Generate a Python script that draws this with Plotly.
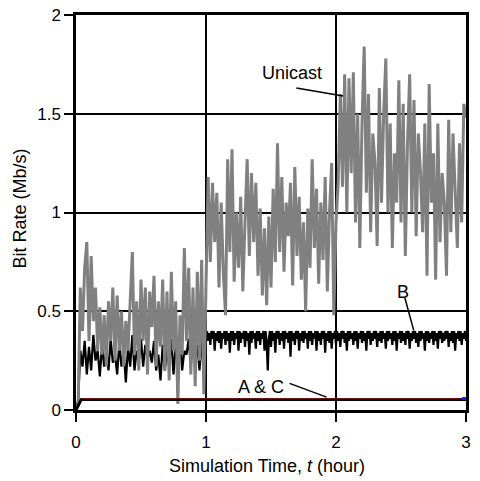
import plotly.graph_objects as go

# ---- data ----
minutes = list(range(0, 181))           # unicast sample times in minutes
time_hours = [m / 60 for m in minutes]

unicast_rate = [
    0.00, 0.03, 0.62, 0.40, 0.72, 0.85, 0.35, 0.78, 0.45, 0.62,
    0.30, 0.52, 0.28, 0.48, 0.22, 0.55, 0.35, 0.62, 0.25, 0.58,
    0.30, 0.50, 0.22, 0.45, 0.30, 0.52, 0.80, 0.28, 0.55, 0.20,
    0.66, 0.35, 0.62, 0.18, 0.60, 0.42, 0.68, 0.22, 0.55, 0.32,
    0.66, 0.20, 0.60, 0.15, 0.70, 0.30, 0.55, 0.03, 0.48, 0.28,
    0.82, 0.35, 0.72, 0.18, 0.62, 0.12, 0.70, 0.25, 0.76, 0.08,
    0.55, 1.18, 0.75, 1.15, 0.85, 1.10, 0.62, 1.05, 0.70, 0.48,
    1.27, 0.80, 1.32, 0.65, 1.00, 0.72, 1.08, 0.60, 0.95, 1.27,
    0.78, 1.20, 0.85, 1.15, 0.68, 1.02, 0.58, 0.92, 0.53, 0.98,
    0.62, 1.12, 0.75, 1.35, 0.80, 1.18, 0.70, 1.05, 0.88, 1.15,
    0.63, 1.23, 0.78, 1.08, 0.66, 0.95, 0.50, 1.02, 0.72, 1.27,
    0.82, 1.12, 0.64, 1.05, 0.76, 1.18, 0.60, 1.00, 1.25, 0.48,
    0.95, 1.15, 1.60, 1.13, 1.70, 1.00, 1.68, 1.20, 1.71, 0.95,
    1.50, 0.82, 1.45, 1.84, 1.10, 1.60, 0.90, 1.40, 1.25, 0.83,
    1.63, 1.05, 1.50, 1.78, 1.00, 1.45, 0.82, 1.30, 1.05, 1.67,
    0.95, 1.55, 0.78, 1.35, 1.70, 1.00, 1.57, 0.88, 1.40, 1.20,
    0.90, 1.45, 0.68, 1.65, 1.05, 1.30, 0.66, 1.45, 0.85, 1.20,
    1.05, 0.68, 1.47, 0.90, 1.40, 1.10, 0.82, 1.35, 0.95, 1.55,
    1.48,
]

# B: one sample per minute for the first hour, one per half minute afterwards
b_minutes = list(range(0, 61)) + [60 + k / 2 for k in range(1, 241)]
b_time = [m / 60 for m in b_minutes]
b_rate = [
    # first hour (minute samples)
    0.00, 0.05, 0.30, 0.22, 0.35, 0.18, 0.32, 0.20, 0.38, 0.25,
    0.30, 0.17, 0.33, 0.22, 0.30, 0.20, 0.36, 0.24, 0.28, 0.18,
    0.34, 0.22, 0.30, 0.14, 0.32, 0.22, 0.38, 0.20, 0.30, 0.25,
    0.36, 0.22, 0.33, 0.26, 0.30, 0.24, 0.35, 0.20, 0.28, 0.15,
    0.33, 0.20, 0.30, 0.22, 0.36, 0.18, 0.32, 0.25, 0.38, 0.20,
    0.30, 0.28, 0.36, 0.22, 0.40, 0.24, 0.33, 0.20, 0.38, 0.15,
    0.38,
    # hours 1-3 (half-minute samples)
    0.40, 0.35, 0.39, 0.33, 0.40, 0.36, 0.40, 0.30, 0.39, 0.35, 0.40, 0.34, 0.40, 0.31, 0.39, 0.36, 0.40, 0.33, 0.40, 0.35,
    0.39, 0.29, 0.40, 0.35, 0.40, 0.33, 0.39, 0.36, 0.40, 0.30, 0.40, 0.34, 0.39, 0.36, 0.40, 0.32, 0.40, 0.35, 0.39, 0.28,
    0.40, 0.34, 0.40, 0.36, 0.39, 0.31, 0.40, 0.35, 0.40, 0.33, 0.39, 0.36, 0.40, 0.30, 0.40, 0.34, 0.20, 0.36, 0.40, 0.32,
    0.40, 0.35, 0.39, 0.29, 0.40, 0.36, 0.40, 0.33, 0.39, 0.35, 0.40, 0.31, 0.40, 0.36, 0.39, 0.34, 0.40, 0.27, 0.40, 0.35,
    0.39, 0.33, 0.40, 0.36, 0.40, 0.30, 0.39, 0.35, 0.40, 0.34, 0.40, 0.36, 0.39, 0.31, 0.40, 0.35, 0.40, 0.33, 0.39, 0.36,
    0.40, 0.30, 0.40, 0.35, 0.39, 0.33, 0.40, 0.36, 0.40, 0.29, 0.39, 0.35, 0.40, 0.34, 0.40, 0.31, 0.39, 0.36, 0.40, 0.33,
    0.40, 0.35, 0.39, 0.32, 0.40, 0.36, 0.40, 0.34, 0.39, 0.30, 0.40, 0.35, 0.40, 0.36, 0.39, 0.33, 0.40, 0.35, 0.40, 0.31,
    0.39, 0.36, 0.40, 0.34, 0.40, 0.35, 0.39, 0.30, 0.40, 0.36, 0.40, 0.33, 0.39, 0.35, 0.40, 0.36, 0.40, 0.32, 0.39, 0.35,
    0.40, 0.34, 0.40, 0.36, 0.39, 0.31, 0.40, 0.35, 0.40, 0.36, 0.39, 0.33, 0.40, 0.35, 0.40, 0.30, 0.39, 0.36, 0.40, 0.34,
    0.40, 0.35, 0.39, 0.33, 0.40, 0.36, 0.40, 0.31, 0.39, 0.35, 0.40, 0.36, 0.40, 0.34, 0.39, 0.32, 0.40, 0.35, 0.40, 0.36,
    0.39, 0.30, 0.40, 0.35, 0.40, 0.34, 0.39, 0.36, 0.40, 0.33, 0.40, 0.35, 0.39, 0.31, 0.40, 0.36, 0.40, 0.34, 0.39, 0.35,
    0.40, 0.36, 0.40, 0.32, 0.39, 0.35, 0.40, 0.34, 0.40, 0.30, 0.39, 0.36, 0.40, 0.35, 0.40, 0.33, 0.39, 0.36, 0.40, 0.35,
]

a_time = [0.0, 0.04, 3.0]
a_rate = [0.0, 0.053, 0.053]
c_time = [0.04, 3.0]
c_rate = [0.058, 0.058]
c_tail_time = [2.97, 3.0]
c_tail_rate = [0.058, 0.058]

x_ticks = [0, 1, 2, 3]
y_ticks = [0, 0.5, 1, 1.5, 2]
y_tick_labels = ["0", "0.5", "1", "1.5", "2"]

# label text positions and leader lines (data coordinates)
labels = [
    ("Unicast", 1.662, 1.705, (1.695, 1.63, 2.055, 1.59)),
    ("B", 2.513, 0.60, (2.53, 0.567, 2.598, 0.403)),
    ("A &amp; C", 1.425, 0.115, (1.643, 0.135, 1.928, 0.065)),
]

FONT = "Liberation Sans, Arial, sans-serif"

fig = go.Figure()
fig.add_trace(go.Scatter(x=b_time, y=b_rate, mode="lines",
                         line=dict(color="black", width=2.2), name="B"))
fig.add_trace(go.Scatter(x=time_hours, y=unicast_rate, mode="lines",
                         line=dict(color="#808080", width=3), name="Unicast"))
fig.add_trace(go.Scatter(x=a_time, y=a_rate, mode="lines",
                         line=dict(color="black", width=3), name="A"))
fig.add_trace(go.Scatter(x=c_time, y=c_rate, mode="lines",
                         line=dict(color="#7a1010", width=1), name="C"))
fig.add_trace(go.Scatter(x=c_tail_time, y=c_tail_rate, mode="lines",
                         line=dict(color="#1a1aff", width=3), name="C tail"))

annotations = []
shapes = []
for text, tx, ty, (x0, y0, x1, y1) in labels:
    annotations.append(dict(x=tx, y=ty, xref="x", yref="y", text=text,
                            xanchor="center", yanchor="middle",
                            showarrow=False, font=dict(size=18, color="black", family=FONT)))
    shapes.append(dict(type="line", xref="x", yref="y", x0=x0, y0=y0, x1=x1, y1=y1,
                       line=dict(color="black", width=1.5)))

annotations.append(dict(x=0.49, y=-0.142, xref="paper", yref="paper",
                        xanchor="center", yanchor="middle",
                        text="Simulation Time, <i>t</i> (hour)", showarrow=False,
                        font=dict(size=18, color="black", family=FONT)))
annotations.append(dict(x=-0.146, y=0.51, xref="paper", yref="paper",
                        xanchor="center", yanchor="middle",
                        text="Bit Rate (Mb/s)", textangle=-90, showarrow=False,
                        font=dict(size=18, color="black", family=FONT)))

axis_common = dict(
    showgrid=True, gridcolor="black", gridwidth=2,
    showline=True, linecolor="black", linewidth=2.5, mirror=True,
    ticks="outside", ticklen=9, tickwidth=2, tickcolor="black",
    zeroline=False, automargin=False, ticklabeloverflow="allow",
    tickfont=dict(size=17, color="black", family=FONT),
)

# the page body has an 8 px margin; size the figure so it fits the 480x481 window
fig.update_layout(
    width=464, height=473,
    margin=dict(l=68, r=6, t=7, b=71),
    paper_bgcolor="white", plot_bgcolor="white",
    showlegend=False,
    xaxis=dict(range=[0, 3], tickvals=x_ticks, ticklabelstandoff=6, **axis_common),
    yaxis=dict(range=[0, 2], tickvals=y_ticks, ticktext=y_tick_labels, **axis_common),
    annotations=annotations, shapes=shapes,
)

fig.write_html("out.html")
